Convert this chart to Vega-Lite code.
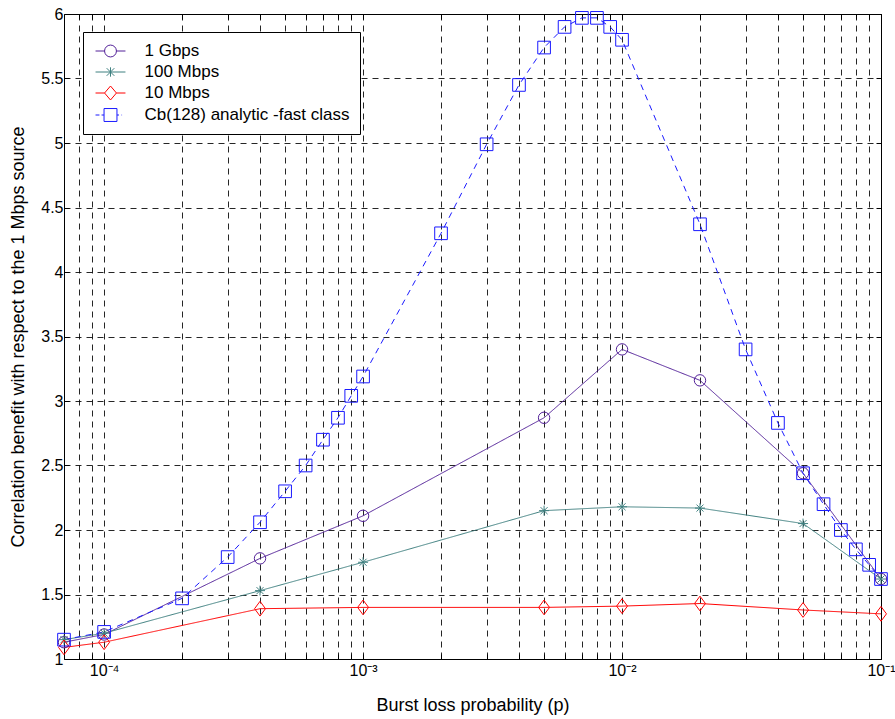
{
  "$schema": "https://vega.github.io/schema/vega-lite/v6.json",
  "width": 817,
  "height": 645,
  "autosize": "none",
  "padding": {"left": 64, "top": 14, "right": 14, "bottom": 60},
  "background": "white",
  "config": {
    "font": "Liberation Sans",
    "view": {"stroke": "black", "strokeWidth": 1},
    "axis": {
      "labelFont": "Liberation Sans",
      "titleFont": "Liberation Sans",
      "labelFontSize": 16,
      "titleFontSize": 18,
      "titleFontWeight": "normal",
      "labelColor": "black",
      "titleColor": "black",
      "domain": false,
      "ticks": true,
      "tickColor": "black",
      "tickSize": -5,
      "tickWidth": 1,
      "gridColor": "#000000",
      "gridOpacity": 0.85,
      "gridDash": [6, 5],
      "gridWidth": 1
    }
  },
  "resolve": {"axis": {"x": "independent", "y": "independent"}},
  "data": {
    "values": [
      {"p": 0.00007, "value": 1.13, "series": "1 Gbps"},
      {"p": 0.0001, "value": 1.19, "series": "1 Gbps"},
      {"p": 0.0004, "value": 1.78, "series": "1 Gbps"},
      {"p": 0.001, "value": 2.11, "series": "1 Gbps"},
      {"p": 0.005, "value": 2.87, "series": "1 Gbps"},
      {"p": 0.01, "value": 3.40, "series": "1 Gbps"},
      {"p": 0.02, "value": 3.16, "series": "1 Gbps"},
      {"p": 0.05, "value": 2.44, "series": "1 Gbps"},
      {"p": 0.1, "value": 1.62, "series": "1 Gbps"},
      {"p": 0.00007, "value": 1.15, "series": "100 Mbps"},
      {"p": 0.0001, "value": 1.20, "series": "100 Mbps"},
      {"p": 0.0004, "value": 1.53, "series": "100 Mbps"},
      {"p": 0.001, "value": 1.75, "series": "100 Mbps"},
      {"p": 0.005, "value": 2.15, "series": "100 Mbps"},
      {"p": 0.01, "value": 2.18, "series": "100 Mbps"},
      {"p": 0.02, "value": 2.17, "series": "100 Mbps"},
      {"p": 0.05, "value": 2.05, "series": "100 Mbps"},
      {"p": 0.1, "value": 1.62, "series": "100 Mbps"},
      {"p": 0.00007, "value": 1.09, "series": "10 Mbps"},
      {"p": 0.0001, "value": 1.13, "series": "10 Mbps"},
      {"p": 0.0004, "value": 1.39, "series": "10 Mbps"},
      {"p": 0.001, "value": 1.40, "series": "10 Mbps"},
      {"p": 0.005, "value": 1.40, "series": "10 Mbps"},
      {"p": 0.01, "value": 1.41, "series": "10 Mbps"},
      {"p": 0.02, "value": 1.43, "series": "10 Mbps"},
      {"p": 0.05, "value": 1.38, "series": "10 Mbps"},
      {"p": 0.1, "value": 1.35, "series": "10 Mbps"},
      {"p": 0.00007, "value": 1.15, "series": "Cb(128) analytic -fast class"},
      {"p": 0.0001, "value": 1.21, "series": "Cb(128) analytic -fast class"},
      {"p": 0.0002, "value": 1.47, "series": "Cb(128) analytic -fast class"},
      {"p": 0.0003, "value": 1.79, "series": "Cb(128) analytic -fast class"},
      {"p": 0.0004, "value": 2.06, "series": "Cb(128) analytic -fast class"},
      {"p": 0.0005, "value": 2.30, "series": "Cb(128) analytic -fast class"},
      {"p": 0.0006, "value": 2.50, "series": "Cb(128) analytic -fast class"},
      {"p": 0.0007, "value": 2.70, "series": "Cb(128) analytic -fast class"},
      {"p": 0.0008, "value": 2.87, "series": "Cb(128) analytic -fast class"},
      {"p": 0.0009, "value": 3.04, "series": "Cb(128) analytic -fast class"},
      {"p": 0.001, "value": 3.19, "series": "Cb(128) analytic -fast class"},
      {"p": 0.002, "value": 4.30, "series": "Cb(128) analytic -fast class"},
      {"p": 0.003, "value": 4.99, "series": "Cb(128) analytic -fast class"},
      {"p": 0.004, "value": 5.45, "series": "Cb(128) analytic -fast class"},
      {"p": 0.005, "value": 5.74, "series": "Cb(128) analytic -fast class"},
      {"p": 0.006, "value": 5.90, "series": "Cb(128) analytic -fast class"},
      {"p": 0.007, "value": 5.97, "series": "Cb(128) analytic -fast class"},
      {"p": 0.008, "value": 5.97, "series": "Cb(128) analytic -fast class"},
      {"p": 0.009, "value": 5.90, "series": "Cb(128) analytic -fast class"},
      {"p": 0.01, "value": 5.80, "series": "Cb(128) analytic -fast class"},
      {"p": 0.02, "value": 4.37, "series": "Cb(128) analytic -fast class"},
      {"p": 0.03, "value": 3.40, "series": "Cb(128) analytic -fast class"},
      {"p": 0.04, "value": 2.83, "series": "Cb(128) analytic -fast class"},
      {"p": 0.05, "value": 2.44, "series": "Cb(128) analytic -fast class"},
      {"p": 0.06, "value": 2.20, "series": "Cb(128) analytic -fast class"},
      {"p": 0.07, "value": 2.00, "series": "Cb(128) analytic -fast class"},
      {"p": 0.08, "value": 1.85, "series": "Cb(128) analytic -fast class"},
      {"p": 0.09, "value": 1.73, "series": "Cb(128) analytic -fast class"},
      {"p": 0.1, "value": 1.62, "series": "Cb(128) analytic -fast class"}
    ]
  },
  "encoding": {
    "color": {
      "field": "series",
      "type": "nominal",
      "scale": {
        "domain": ["1 Gbps", "100 Mbps", "10 Mbps", "Cb(128) analytic -fast class"],
        "range": ["#522098", "#3f8080", "#ff0000", "#1a1aff"]
      },
      "legend": {
        "title": null,
        "orient": "none",
        "legendX": 19,
        "legendY": 18,
        "direction": "vertical",
        "fillColor": "white",
        "strokeColor": "black",
        "padding": 10,
        "labelFont": "Liberation Sans",
        "labelFontSize": 17,
        "labelColor": "black",
        "labelLimit": 400,
        "symbolSize": 289,
        "symbolOffset": 8.5,
        "symbolStrokeWidth": 1,
        "symbolFillColor": "transparent",
        "symbolOpacity": 1,
        "rowPadding": 4,
        "labelOffset": 25
      }
    }
  },
  "layer": [
    {
      "mark": {"type": "line", "strokeWidth": 1, "clip": true},
      "encoding": {
        "x": {
          "field": "p",
          "type": "quantitative",
          "scale": {"type": "log", "domain": [0.00007, 0.1], "nice": false},
          "axis": {
            "orient": "bottom",
            "title": "Burst loss probability (p)",
            "grid": true,
            "values": [0.00008, 0.00009, 0.0001, 0.0002, 0.0003, 0.0004, 0.0005, 0.0006, 0.0007, 0.0008, 0.0009, 0.001, 0.002, 0.003, 0.004, 0.005, 0.006, 0.007, 0.008, 0.009, 0.01, 0.02, 0.03, 0.04, 0.05, 0.06, 0.07, 0.08, 0.09, 0.1],
            "labelExpr": "datum.value == 0.0001 ? '10⁻⁴' : datum.value == 0.001 ? '10⁻³' : datum.value == 0.01 ? '10⁻²' : datum.value == 0.1 ? '10⁻¹' : ''",
            "labelPadding": 8,
            "titleY": 37,
            "titleBaseline": "top",
            "labelFlush": false,
            "labelOverlap": false
          }
        },
        "y": {
          "field": "value",
          "type": "quantitative",
          "scale": {"domain": [1, 6], "nice": false, "zero": false},
          "axis": {
            "orient": "left",
            "title": "Correlation benefit with respect to the 1 Mbps source",
            "grid": true,
            "values": [1, 1.5, 2, 2.5, 3, 3.5, 4, 4.5, 5, 5.5, 6],
            "format": "~g",
            "labelPadding": 6,
            "titleX": -46,
            "titleBaseline": "middle",
            "labelFlush": false,
            "labelOverlap": false
          }
        },
        "strokeDash": {
          "field": "series",
          "type": "nominal",
          "scale": {
            "domain": ["Cb(128) analytic -fast class", "1 Gbps", "100 Mbps", "10 Mbps"],
            "range": [[6, 5], [1, 0], [1, 0], [1, 0]]
          },
          "legend": null
        }
      }
    },
    {
      "transform": [{"filter": {"field": "series", "equal": "1 Gbps"}}],
      "mark": {"type": "point", "filled": false, "strokeWidth": 1, "opacity": 1, "shape": "circle", "size": 130},
      "encoding": {
        "x": {"field": "p", "type": "quantitative", "axis": null},
        "y": {"field": "value", "type": "quantitative", "axis": null}
      }
    },
    {
      "transform": [{"filter": {"field": "series", "equal": "100 Mbps"}}],
      "mark": {"type": "point", "filled": false, "strokeWidth": 1, "opacity": 1, "shape": "M-1,0H1M0,-1V1M-0.7,-0.7L0.7,0.7M-0.7,0.7L0.7,-0.7", "size": 100},
      "encoding": {
        "x": {"field": "p", "type": "quantitative", "axis": null},
        "y": {"field": "value", "type": "quantitative", "axis": null}
      }
    },
    {
      "transform": [{"filter": {"field": "series", "equal": "10 Mbps"}}],
      "mark": {"type": "point", "filled": false, "strokeWidth": 1, "opacity": 1, "shape": "M0,-1.15L0.85,0L0,1.15L-0.85,0Z", "size": 165},
      "encoding": {
        "x": {"field": "p", "type": "quantitative", "axis": null},
        "y": {"field": "value", "type": "quantitative", "axis": null}
      }
    },
    {
      "transform": [{"filter": {"field": "series", "equal": "Cb(128) analytic -fast class"}}],
      "mark": {"type": "point", "filled": false, "strokeWidth": 1, "opacity": 1, "shape": "square", "size": 160},
      "encoding": {
        "x": {"field": "p", "type": "quantitative", "axis": null},
        "y": {"field": "value", "type": "quantitative", "axis": null}
      }
    },
    {
      "mark": {"type": "point", "filled": false, "strokeWidth": 1, "opacity": 0},
      "encoding": {
        "x": {
          "field": "p",
          "type": "quantitative",
          "axis": {
            "orient": "top",
            "title": null,
            "labels": false,
            "grid": false,
            "values": [0.00008, 0.00009, 0.0001, 0.0002, 0.0003, 0.0004, 0.0005, 0.0006, 0.0007, 0.0008, 0.0009, 0.001, 0.002, 0.003, 0.004, 0.005, 0.006, 0.007, 0.008, 0.009, 0.01, 0.02, 0.03, 0.04, 0.05, 0.06, 0.07, 0.08, 0.09, 0.1]
          }
        },
        "y": {
          "field": "value",
          "type": "quantitative",
          "axis": {
            "orient": "right",
            "title": null,
            "labels": false,
            "grid": false,
            "values": [1, 1.5, 2, 2.5, 3, 3.5, 4, 4.5, 5, 5.5, 6]
          }
        },
        "shape": {
          "field": "series",
          "type": "nominal",
          "scale": {
            "domain": ["1 Gbps", "100 Mbps", "10 Mbps", "Cb(128) analytic -fast class"],
            "range": [
              "M-1.76,0H-0.7M0.7,0H1.76M0.7,0A0.7,0.7 0 1,1 -0.7,0A0.7,0.7 0 1,1 0.7,0",
              "M-1.76,0H1.76M0,-0.55V0.55M-0.45,-0.45L0.45,0.45M-0.45,0.45L0.45,-0.45",
              "M-1.76,0H-0.7L0,-0.82L0.7,0H1.76M-0.7,0L0,0.82L0.7,0",
              "M-1.76,0H-1.3M-1.05,0H-0.76M0.76,0H1.0M1.3,0H1.36M-0.76,-0.76H0.76V0.76H-0.76Z"
            ]
          }
        }
      }
    }
  ]
}
